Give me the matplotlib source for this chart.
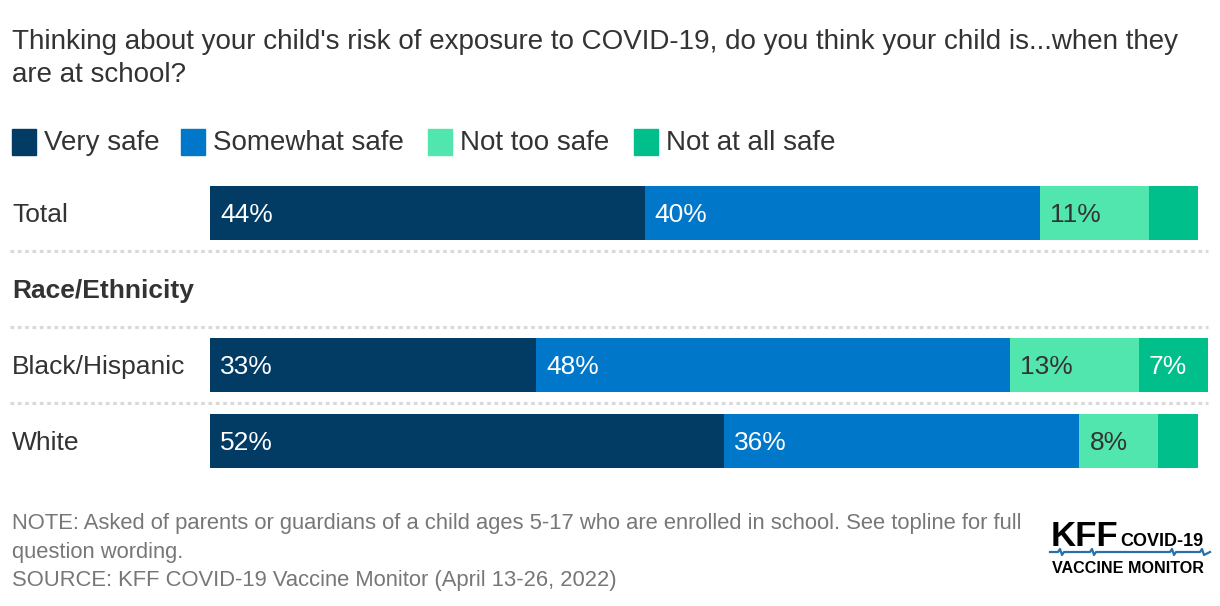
import matplotlib
matplotlib.use("Agg")
import matplotlib.pyplot as plt
from matplotlib.patches import Rectangle
from matplotlib.transforms import blended_transform_factory
from matplotlib import font_manager
import numpy as np

plt.rcParams['font.family'] = ['Liberation Sans', 'DejaVu Sans']

title = "Thinking about your child's risk of exposure to COVID-19, do you think your child is...when they\nare at school?"
series_names = ["Very safe", "Somewhat safe", "Not too safe", "Not at all safe"]
colors = ["#023b64", "#0077c8", "#52e6af", "#00bf8a"]
label_colors = ["white", "white", "#333333", "white"]
rows = ["Total", "Race/Ethnicity", "Black/Hispanic", "White"]
row_bold = [False, True, False, False]
very_safe = [44, None, 33, 52]
somewhat_safe = [40, None, 48, 36]
not_too_safe = [11, None, 13, 8]
not_at_all_safe = [5, None, 7, 4]
show_label = [[True, True, True, False], None, [True, True, True, True], [True, True, True, False]]
note = ("NOTE: Asked of parents or guardians of a child ages 5-17 who are enrolled in school. See topline for full\n"
        "question wording.\n"
        "SOURCE: KFF COVID-19 Vaccine Monitor (April 13-26, 2022)")

W, H = 1220, 606
fig = plt.figure(figsize=(W / 100, H / 100), dpi=100)

def fx(px):
    return px / W

def fy(py):
    return 1 - py / H

ax = fig.add_axes([fx(210), fy(479), fx(1198) - fx(210), (479 - 175) / H])
ax.set_xlim(0, 100)
ax.set_ylim(len(rows) - 0.5, -0.5)
ax.axis('off')

values = [very_safe, somewhat_safe, not_too_safe, not_at_all_safe]
ypos = np.arange(len(rows))
for i in range(len(rows)):
    if values[0][i] is None:
        continue
    left = 0
    for s in range(len(series_names)):
        v = values[s][i]
        ax.barh(ypos[i], v, left=left, height=54 / 76, color=colors[s], clip_on=False)
        if show_label[i][s]:
            ax.annotate(f"{v}%", xy=(left, ypos[i]), xytext=(10, -2), textcoords='offset pixels',
                        va='center', ha='left', fontsize=19, color=label_colors[s])
        left += v

# row labels
trans_rows = blended_transform_factory(fig.transFigure, ax.transData)
for i, r in enumerate(rows):
    fig.text(fx(12), ypos[i] + 2 / 76, r, transform=trans_rows, fontsize=19, color='#333333',
             fontweight='bold' if row_bold[i] else 'normal', va='center', ha='left')

# dotted separators
for yy in [0.5, 1.5, 2.5]:
    fig.add_artist(plt.Line2D([fx(10), fx(1208)], [yy, yy], transform=trans_rows,
                              color='#d9d9d9', linestyle=(0, (1.2, 1.2)), linewidth=2.2))

# title
fig.text(fx(12), fy(29), title, fontsize=20, color='#333333', va='top', ha='left', linespacing=1.34)

# legend
leg_x_box = [12, 181, 428, 634]
for s, name in enumerate(series_names):
    fig.add_artist(Rectangle((fx(leg_x_box[s]), fy(155)), fx(24), 26 / H, transform=fig.transFigure,
                             color=colors[s]))
    fig.text(fx(leg_x_box[s] + 32), fy(143), name, fontsize=20, color='#333333', va='center', ha='left')

# footer
fig.text(fx(12), fy(513), note, fontsize=15.8, color='#777777', va='top', ha='left', linespacing=1.47)

# logo
names = {f.name for f in font_manager.fontManager.ttflist}
if 'Liberation Sans Narrow' in names:
    logo_fam = ['Liberation Sans Narrow', 'Liberation Sans']
    s_kff, s_cov, s_vm = 27, 15, 14
else:
    logo_fam = ['Liberation Sans', 'DejaVu Sans']
    s_kff, s_cov, s_vm = 25, 13, 11.6
fig.text(fx(1051), fy(546), "KFF", fontsize=s_kff, fontweight='bold', color='black', va='baseline', ha='left', family=logo_fam)
fig.text(fx(1120), fy(546), "COVID-19", fontsize=s_cov, fontweight='bold', color='black', va='baseline', ha='left', family=logo_fam)
lx = np.array([1050, 1058, 1060, 1062, 1064, 1090, 1092, 1094, 1096, 1170, 1172, 1174, 1176, 1200, 1202, 1204, 1210])
ly = np.array([552, 552, 549, 555, 552, 552, 549, 555, 552, 552, 549, 555, 552, 552, 549, 555, 552])
fig.add_artist(plt.Line2D(fx(lx), fy(ly), transform=fig.transFigure, color='#2a6fa8', linewidth=1.6))
fig.text(fx(1052), fy(573), "VACCINE MONITOR", fontsize=s_vm, fontweight='bold', color='black', va='baseline', ha='left', family=logo_fam)

fig.savefig("out.png", dpi=100)
